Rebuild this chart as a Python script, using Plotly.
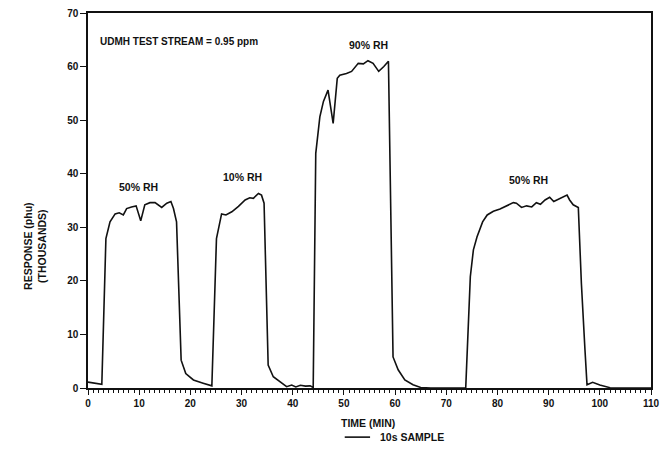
import plotly.graph_objects as go

# UDMH response trace, 10 s sampling
time_min = [0, 1, 2.7, 3.5, 4.3, 5.3, 6.1, 6.9, 7.55, 8.5, 9.4, 10.3, 11.1, 12.1, 13.1,
            14.4, 15.4, 16.2, 16.7, 17.3, 18.2, 19.1, 20.6, 22.5, 24.2,
            25.1, 26.1, 26.95, 28.1, 29.4, 30.7, 31.6, 32.3, 33.3, 33.9, 34.4, 35.2,
            36.2, 37.8, 38.8, 39.8, 40.6, 41.5, 42.5, 43.4, 44.0,
            44.5, 45.3, 46.0, 46.9, 47.9, 48.7, 49.2, 50.5, 51.5, 52.8, 53.8, 54.7,
            55.7, 56.8, 57.8, 58.7, 59.6, 60.6, 61.9, 63.5, 65, 67, 70, 73.8,
            74.7, 75.3, 76.0, 77.1, 78.0, 79.2, 80.5, 81.8, 83.1, 83.7, 84.7, 85.7,
            86.7, 87.6, 88.4, 89.3, 90.2, 91.0, 91.9, 92.8, 93.6, 94.1, 94.8, 95.8,
            96.4, 97.1, 97.5, 98.6, 100, 102, 105, 110]
response_k = [1.1, 1.0, 0.7, 27.9, 31.0, 32.5, 32.7, 32.3, 33.5, 33.8, 34.0, 31.2, 34.2, 34.6, 34.6,
              33.7, 34.5, 34.8, 33.5, 31.0, 5.2, 2.7, 1.5, 0.9, 0.4,
              27.9, 32.5, 32.3, 32.9, 33.9, 35.1, 35.5, 35.4, 36.3, 36.0, 34.5, 4.3,
              2.1, 1.06, 0.25, 0.56, 0.2, 0.5, 0.35, 0.4, 0.1,
              43.8, 50.6, 53.5, 55.6, 49.4, 57.8, 58.4, 58.7, 59.1, 60.6, 60.5, 61.1,
              60.6, 59.1, 60.0, 61.0, 5.8, 3.4, 1.5, 0.6, 0.1, 0, 0, 0,
              20.8, 25.8, 28.2, 31.0, 32.3, 33.0, 33.4, 34.0, 34.6, 34.5, 33.7, 34.0,
              33.8, 34.6, 34.3, 35.1, 35.6, 34.8, 35.2, 35.6, 36.0, 35.1, 34.2, 33.7,
              19.5, 7.1, 0.6, 1.06, 0.56, 0.06, 0, 0]

x_ticks = list(range(0, 111, 10))
y_ticks = list(range(0, 71, 10))

# condition labels placed above each exposure
label_text = ["50% RH", "10% RH", "90% RH", "50% RH"]
label_t = [9.8, 30.1, 54.9, 86.0]
label_v = [37.6, 39.4, 64.0, 38.8]

series_name = "10s SAMPLE"

FONT = "Liberation Sans, Arial, sans-serif"
INK = "#111111"

def txt_font(size=10):
    return dict(family=FONT, size=size, color=INK, weight="bold")

fig = go.Figure()
fig.add_trace(go.Scatter(
    x=time_min, y=response_k, mode="lines",
    line=dict(color=INK, width=1.6),
    name=series_name, showlegend=False,
))

for txt, tx, ty in zip(label_text, label_t, label_v):
    fig.add_annotation(x=tx, y=ty, text=txt, showarrow=False,
                       font=txt_font(10.5), xanchor="center", yanchor="middle")

fig.add_annotation(x=2.0, y=64.6, text="UDMH TEST STREAM = 0.95 ppm",
                   showarrow=False, xanchor="left", yanchor="middle",
                   font=txt_font(10))

# two-line rotated y title
fig.add_annotation(xref="paper", yref="paper", x=-0.094, y=0.379,
                   text="RESPONSE (phu)<br>(THOUSANDS)", textangle=-90,
                   showarrow=False, xanchor="center", yanchor="middle",
                   font=txt_font(10.5))

# x title
fig.add_annotation(xref="paper", yref="paper", x=0.497, y=-0.093,
                   text="TIME (MIN)", showarrow=False,
                   xanchor="center", yanchor="middle", font=txt_font(10.5))

# legend key: short line followed by the series name
fig.add_shape(type="line", xref="paper", yref="paper",
              x0=0.456, x1=0.501, y0=-0.131, y1=-0.131,
              line=dict(color=INK, width=1.6))
fig.add_annotation(xref="paper", yref="paper", x=0.515, y=-0.131,
                   text=series_name, showarrow=False,
                   xanchor="left", yanchor="middle", font=txt_font(10.5))

fig.update_layout(
    width=666, height=455,
    margin=dict(l=88, r=15, t=13, b=67, autoexpand=False),
    paper_bgcolor="white", plot_bgcolor="white",
    font=dict(family=FONT, color=INK),
    showlegend=False,
)

fig.update_xaxes(
    range=[0, 110], tickvals=x_ticks, ticktext=[str(v) for v in x_ticks],
    showline=True, linecolor=INK, linewidth=1.5, mirror=True,
    ticks="outside", ticklen=5, tickwidth=1.2, tickcolor=INK,
    minor=dict(dtick=1, ticks="outside", ticklen=3, tickwidth=1, tickcolor=INK),
    showgrid=False, zeroline=False, automargin=False,
    tickfont=txt_font(10),
)
fig.update_yaxes(
    range=[0, 70], tickvals=y_ticks, ticktext=[str(v) for v in y_ticks],
    showline=True, linecolor=INK, linewidth=1.5, mirror=True,
    ticks="outside", ticklen=6, tickwidth=1.2, tickcolor=INK,
    showgrid=False, zeroline=False, automargin=False,
    tickfont=txt_font(10),
)

fig.write_html("out.html")
